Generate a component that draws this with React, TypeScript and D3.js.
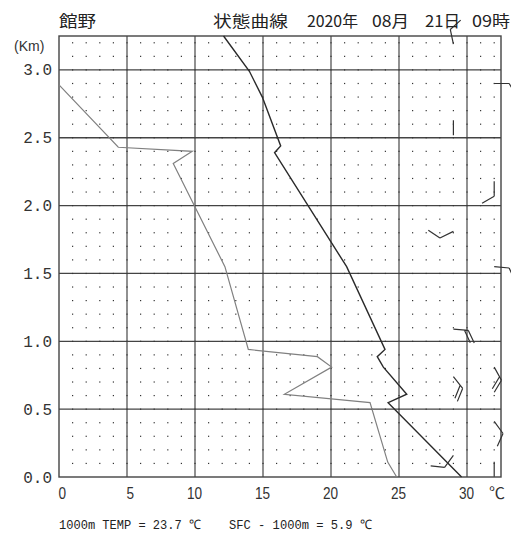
import React from "react";
import * as d3 from "d3";

// Station / title text
const stationName = "館野";
const chartTitle = "状態曲線";
const dateParts = ["2020年", "08月", "21日", "09時"];

// Axis ticks
const xTicks = [0, 5, 10, 15, 20, 25, 30];
const yTicks = [0, 0.5, 1.0, 1.5, 2.0, 2.5, 3.0];

// Temperature profile (height km, °C)
const tempHeights = [3.25, 2.99, 2.8, 2.44, 2.39, 1.55, 0.94, 0.887, 0.81, 0.61, 0.548, 0];
const tempValues = [12.1, 14.0, 14.95, 16.3, 15.85, 21.15, 23.97, 23.4, 23.85, 25.57, 24.2, 29.6];

// Dew point profile (height km, °C)
const dewHeights = [2.89, 2.43, 2.4, 2.31, 1.55, 0.94, 0.887, 0.81, 0.61, 0.548, 0.11, 0];
const dewValues = [0, 4.36, 9.8, 8.4, 12.2, 13.92, 19.0, 20.05, 16.57, 22.87, 24.17, 24.83];

// Wind barbs: column (°C position), height km, direction (deg, from), barb count
const windColumns = [29, 29, 29, 29, 29, 29, 32, 32, 32, 32, 32, 32];
const windHeights = [3.19, 2.63, 1.81, 1.09, 0.74, 0.16, 2.9, 2.18, 1.55, 0.81, 0.41, 0.113];
const windDirections = [348, 180, 244, 95, 142, 216, 90, 180, 95, 151, 144, 180];
const windBarbCounts = [1, 0, 1, 2, 2, 1, 1, 1, 1, 2, 1, 0];

// Summary values
const temp1000 = 23.7;
const sfcMinus1000 = 5.9;

const W = 511;
const H = 534;

export default function App() {
  const x = d3.scaleLinear().domain([0, 32.5]).range([59, 501]);
  const y = d3.scaleLinear().domain([0, 3.25]).range([477, 36]);

  const line = d3
    .line<[number, number]>()
    .x((d) => x(d[0]))
    .y((d) => y(d[1]));

  const tempPts: [number, number][] = tempValues.map((v, i) => [v, tempHeights[i]]);
  const dewPts: [number, number][] = dewValues.map((v, i) => [v, dewHeights[i]]);

  const dotTs = d3.range(1, 33);
  const dotHs = d3.range(1, 33).map((k) => k / 10);

  const staffLen = 15;
  const barbLen = 14;
  const barbGap = 4;
  const barbAngle = (60 * Math.PI) / 180;

  const barbs = windHeights.map((h, i) => {
    const sx = x(windColumns[i]);
    const sy = y(h);
    const th = (windDirections[i] * Math.PI) / 180;
    const ux = Math.sin(th);
    const uy = -Math.cos(th);
    const ex = sx + staffLen * ux;
    const ey = sy + staffLen * uy;
    const rx = ux * Math.cos(barbAngle) - uy * Math.sin(barbAngle);
    const ry = ux * Math.sin(barbAngle) + uy * Math.cos(barbAngle);
    let d = `M${sx},${sy}L${ex},${ey}`;
    for (let k = 0; k < windBarbCounts[i]; k++) {
      const bx = ex - k * barbGap * ux;
      const by = ey - k * barbGap * uy;
      d += `M${bx},${by}L${bx + barbLen * rx},${by + barbLen * ry}`;
    }
    return d;
  });

  const cjk = "'Noto Sans CJK JP', 'Noto Sans', sans-serif";
  const datePos = [
    { x: 307, w: 51 },
    { x: 372, w: 37 },
    { x: 425, w: 35 },
    { x: 472, w: 38 },
  ];

  return (
    <svg
      width={W}
      height={H}
      viewBox={`0 0 ${W} ${H}`}
      style={{ position: "absolute", left: 0, top: 0, background: "#fff" }}
    >
      <rect x={0} y={0} width={W} height={H} fill="#fff" />

      {/* horizontal grid */}
      {yTicks.slice(1).map((t) => (
        <line key={"h" + t} x1={x(0)} x2={x(32.5)} y1={y(t)} y2={y(t)} stroke="#444" strokeWidth={1.3} />
      ))}
      {/* vertical grid */}
      {xTicks.slice(1).map((t) => (
        <line key={"v" + t} x1={x(t)} x2={x(t)} y1={y(0)} y2={y(3.25)} stroke="#555" strokeWidth={1.3} />
      ))}

      {/* dot grid */}
      <g fill="#333">
        {dotTs.map((t) =>
          dotHs.map((h) => (
            <rect key={t + "-" + h} x={x(t) - 0.6} y={y(h) - 0.6} width={1.2} height={1.2} />
          ))
        )}
      </g>

      {/* frame */}
      <rect x={x(0)} y={y(3.25)} width={x(32.5) - x(0)} height={y(0) - y(3.25)} fill="none" stroke="#444" strokeWidth={1.4} />

      {/* dew point */}
      <path d={line(dewPts) || ""} fill="none" stroke="#808080" strokeWidth={1.2} />
      {/* temperature */}
      <path d={line(tempPts) || ""} fill="none" stroke="#2a2a2a" strokeWidth={1.4} />

      {/* wind barbs */}
      <g stroke="#333" strokeWidth={1.2} fill="none">
        {barbs.map((d, i) => (
          <path key={"w" + i} d={d} />
        ))}
      </g>

      {/* title */}
      <g fill="#222" fontFamily={cjk} fontSize={15.5}>
        <text x={59} y={26.5} textLength={37} lengthAdjust="spacingAndGlyphs">
          {stationName}
        </text>
        <text x={213} y={26.5} textLength={75} lengthAdjust="spacingAndGlyphs">
          {chartTitle}
        </text>
        {dateParts.map((p, i) => (
          <text key={p} x={datePos[i].x} y={26.5} textLength={datePos[i].w} lengthAdjust="spacingAndGlyphs">
            {p}
          </text>
        ))}
      </g>

      {/* y axis */}
      <text x={14} y={51} fontFamily="'Liberation Sans', Arial, sans-serif" fontSize={14} fill="#333">
        (Km)
      </text>
      <g fontFamily="'Liberation Mono', monospace" fontSize={16} fill="#333" textAnchor="end">
        {yTicks.map((t) => (
          <text key={"yl" + t} x={52} y={y(t) + 5.5}>
            {d3.format(".1f")(t)}
          </text>
        ))}
      </g>

      {/* x axis */}
      <g fontFamily="'Liberation Sans', Arial, sans-serif" fontSize={17} fill="#333" textAnchor="end">
        {xTicks.map((t) => (
          <text key={"xl" + t} transform={`translate(${x(t) + 7},499) scale(0.8,1)`}>
            {t}
          </text>
        ))}
      </g>
      <text x={489} y={499} fontFamily={cjk} fontSize={16} fill="#333">
        ℃
      </text>

      {/* summary */}
      <g fontFamily="'Liberation Mono', monospace" fontSize={13} fill="#222">
        <text x={59} y={529} textLength={142} lengthAdjust="spacingAndGlyphs">
          {`1000m TEMP = ${d3.format(".1f")(temp1000)} ℃`}
        </text>
        <text x={229} y={529} textLength={143} lengthAdjust="spacingAndGlyphs">
          {`SFC - 1000m = ${d3.format(".1f")(sfcMinus1000)} ℃`}
        </text>
      </g>
    </svg>
  );
}
